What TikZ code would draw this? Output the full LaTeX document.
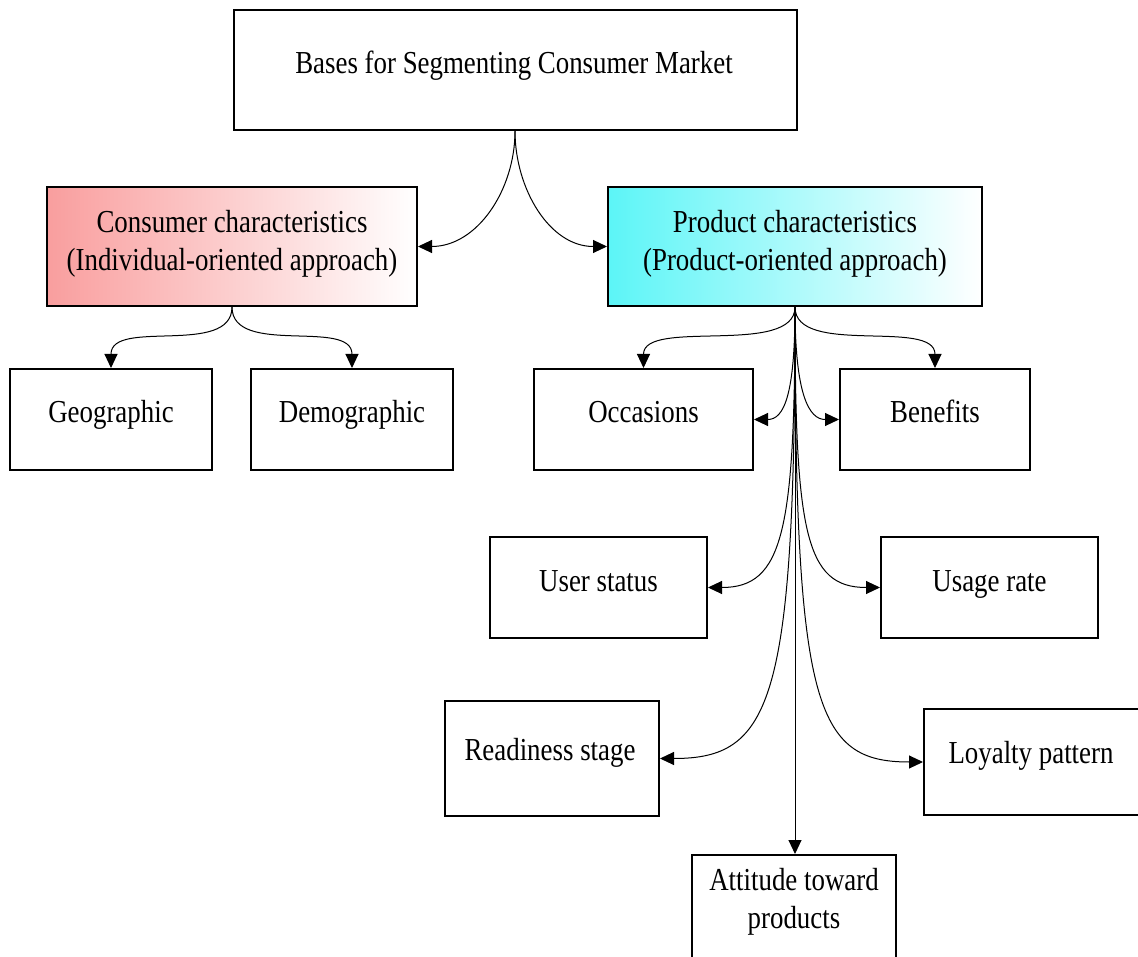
\documentclass[tikz,border=0pt]{standalone}
\usepackage{fontspec}
\setmainfont{Liberation Serif}[FakeStretch=0.84]
\usetikzlibrary{arrows.meta}
\definecolor{pinkL}{RGB}{249,158,158}
\definecolor{cyanL}{RGB}{92,245,247}
\tikzset{
  box/.style={draw=black, line width=2pt, inner sep=0pt},
  lbl/.style={font=\fontsize{32}{38}\selectfont, inner sep=0pt, align=center},
  conn/.style={line width=1pt, -{Triangle[length=14pt,width=13pt]}},
}
\begin{document}
\begin{tikzpicture}[x=1pt,y=-1pt]
\clip (0,0) rectangle (1138,957);
\fill[white] (0,0) rectangle (1138,957);

% boxes
\node[box, minimum width=563pt, minimum height=120pt] (top) at (515,70) {};
\node[box, minimum width=370pt, minimum height=119pt, left color=pinkL, right color=white] (cons) at (232,246.5) {};
\node[box, minimum width=374pt, minimum height=119pt, left color=cyanL, right color=white] (prod) at (795,246.5) {};
\node[box, minimum width=202pt, minimum height=101pt] (geo) at (111,419.5) {};
\node[box, minimum width=202pt, minimum height=101pt] (demo) at (352,419.5) {};
\node[box, minimum width=219pt, minimum height=101pt] (occ) at (643.5,419.5) {};
\node[box, minimum width=190pt, minimum height=101pt] (ben) at (935,419.5) {};
\node[box, minimum width=217pt, minimum height=101pt] (user) at (598.5,587.5) {};
\node[box, minimum width=217pt, minimum height=101pt] (usage) at (989.5,587.5) {};
\node[box, minimum width=214pt, minimum height=115pt] (ready) at (552,758.5) {};
\node[box, minimum width=236pt, minimum height=106pt] (loyal) at (1042,762) {};
\node[box, minimum width=204pt, minimum height=145pt] (att) at (794,927.5) {};

% labels
\node[lbl, anchor=base] (top-l) at (514,74) {Bases for Segmenting Consumer Market};
\node[lbl] (cons-l) at (232,243.5) {Consumer characteristics\\(Individual-oriented approach)};
\node[lbl] (prod-l) at (795,243.5) {Product characteristics\\(Product-oriented approach)};
\node[lbl, anchor=base] (geo-l) at (111,423) {Geographic};
\node[lbl, anchor=base] (demo-l) at (352,423) {Demographic};
\node[lbl, anchor=base] (occ-l) at (643.5,423) {Occasions};
\node[lbl, anchor=base] (ben-l) at (935,423) {Benefits};
\node[lbl, anchor=base] (user-l) at (598.5,591) {User status};
\node[lbl, anchor=base] (usage-l) at (989.5,591) {Usage rate};
\node[lbl, anchor=base] (ready-l) at (550,760) {Readiness stage};
\node[lbl, anchor=base] (loyal-l) at (1031,763) {Loyalty pattern};
\node[lbl] (att-l) at (794,902) {Attitude toward\\products};

% connectors
\draw[conn] (top.south) to[out=-90,in=0] (cons.east);
\draw[conn] (top.south) to[out=-90,in=180] (prod.west);
\draw[conn] (cons.south) .. controls +(0,50) and +(0,-50) .. (geo.north);
\draw[conn] (cons.south) .. controls +(0,50) and +(0,-50) .. (demo.north);
\draw[conn] (prod.south) .. controls +(0,50) and +(0,-50) .. (occ.north);
\draw[conn] (prod.south) .. controls +(0,50) and +(0,-50) .. (ben.north);
\draw[conn] (prod.south) .. controls +(0,88) and +(30,0) .. (occ.east);
\draw[conn] (prod.south) .. controls +(0,88) and +(-30,0) .. (ben.west);
\draw[conn] (prod.south) .. controls +(0,225) and +(75,0) .. (user.east);
\draw[conn] (prod.south) .. controls +(0,225) and +(-75,0) .. (usage.west);
\draw[conn] (prod.south) .. controls +(0,395) and +(112,0) .. (ready.east);
\draw[conn] (prod.south) .. controls +(0,400) and +(-108,0) .. (loyal.west);
\draw[conn] (prod.south) -- (prod.south |- att.north);
\end{tikzpicture}
\end{document}
